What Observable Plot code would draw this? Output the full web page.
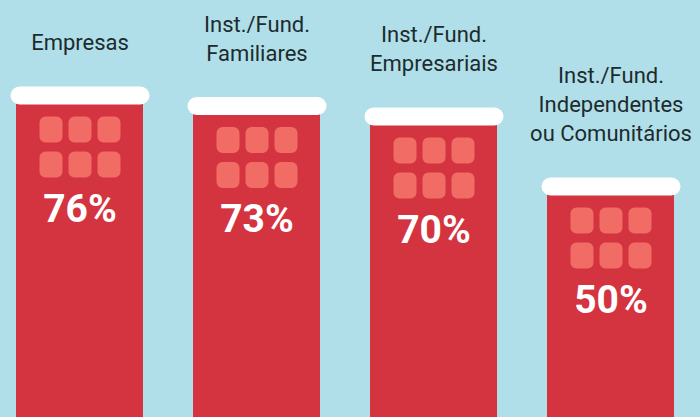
<!DOCTYPE html>
<html><head><meta charset="utf-8">
<script src="https://cdn.jsdelivr.net/npm/d3@7"></script>
<script src="https://cdn.jsdelivr.net/npm/@observablehq/plot@0.6"></script>
<style>
html,body{margin:0;padding:0;background:#b0dfe9;}
#chart svg{display:block}
</style></head><body><div id="chart"></div>
<script>
const categories = ["Empresas", "Inst./Fund.\nFamiliares", "Inst./Fund.\nEmpresariais", "Inst./Fund.\nIndependentes\nou Comunitários"];
const values = [76, 73, 70, 50];
const valueLabels = ["76%", "73%", "70%", "50%"];
const yDomain = [-18.57, 100.57];

const data = categories.map((c, i) => ({cat: c, value: values[i], label: valueLabels[i]}));

function roundRect(ctx, x, y, w, h, r) {
  ctx.moveTo(x + r, y);
  ctx.lineTo(x + w - r, y);
  ctx.arcTo(x + w, y, x + w, y + r, r);
  ctx.lineTo(x + w, y + h - r);
  ctx.arcTo(x + w, y + h, x + w - r, y + h, r);
  ctx.lineTo(x + r, y + h);
  ctx.arcTo(x, y + h, x, y + h - r, r);
  ctx.lineTo(x, y + r);
  ctx.arcTo(x, y, x + r, y, r);
  ctx.closePath();
}
const capSymbol = {draw(ctx) { roundRect(ctx, -69.5, -9, 139, 18, 9); }};
const windowsSymbol = {draw(ctx) {
  for (const cx of [-29, 0, 29]) for (const cy of [-17.5, 17.5]) roundRect(ctx, cx - 11.5, cy - 13, 23, 26, 6);
}};

const chart = Plot.plot({
  width: 700,
  height: 417,
  marginLeft: 0, marginRight: 10, marginTop: 0, marginBottom: 0,
  style: {background: "#b0dfe9"},
  x: {domain: categories, paddingInner: 0.281, paddingOuter: 0.079, axis: null},
  y: {domain: yDomain, axis: null},
  marks: [
    Plot.barY(data, {x: "cat", y1: () => yDomain[0], y2: "value", insetTop: 9, fill: "#d3343f"}),
    Plot.dot(data, {x: "cat", y: "value", dy: 9, r: 5, symbol: capSymbol, fill: "white", stroke: "none"}),
    Plot.dot(data, {x: "cat", y: "value", dy: 60.5, r: 5, symbol: windowsSymbol, fill: "#f26c66", stroke: "none"}),
    Plot.text(data, {x: "cat", y: "value", text: "label", dy: 123, fill: "white", fontSize: 39, fontWeight: 700, fontFamily: "Roboto"}),
    Plot.text(data, {x: "cat", y: "value", text: "cat", dy: -36, lineAnchor: "bottom", lineHeight: 1.32, fontSize: 22, fill: "#1d2b2d", fontFamily: "Roboto"})
  ]
});
document.getElementById("chart").appendChild(chart);
</script></body></html>
